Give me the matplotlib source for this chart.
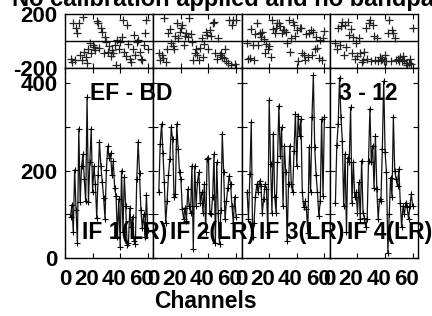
import numpy as np
import matplotlib
matplotlib.use('Agg')
from matplotlib import pyplot as plt
from matplotlib import transforms
from matplotlib.ticker import FixedLocator, FuncFormatter

# 頻道 (邊緣頻道已被標記掉)
CHANNELS = np.arange(4, 61)
IF_NAMES = ['IF 1(LR)', 'IF 2(LR)', 'IF 3(LR)', 'IF 4(LR)']

# 振幅
IF1_AMP = [95, 122, 60, 202, 110, 34, 296, 129, 210, 237,
           180, 130, 368, 129, 220, 296, 150, 210, 170, 92,
           190, 265, 210, 175, 138, 90, 202, 256, 230, 240,
           190, 221, 160, 141, 49, 135, 26, 200, 60, 186,
           118, 30, 34, 115, 70, 95, 40, 31, 180, 265,
           195, 110, 69, 100, 49, 145, 65]
IF2_AMP = [150, 261, 307, 240, 173, 80, 130, 190, 227, 299,
           272, 140, 147, 307, 250, 196, 180, 112, 90, 115,
           85, 158, 120, 104, 211, 20, 211, 120, 173, 196,
           127, 150, 104, 169, 60, 227, 230, 104, 100, 140,
           238, 35, 219, 104, 31, 110, 284, 196, 89, 130,
           161, 188, 169, 120, 80, 140, 95]
IF3_AMP = [150, 90, 192, 311, 47, 80, 139, 169, 150, 177,
           165, 104, 135, 169, 158, 60, 361, 215, 104, 285,
           139, 104, 219, 349, 234, 299, 119, 257, 196, 39,
           169, 257, 169, 150, 246, 330, 211, 326, 280, 318,
           150, 116, 130, 112, 58, 253, 150, 322, 418, 253,
           190, 150, 96, 130, 318, 142, 322]
IF4_AMP = [127, 258, 307, 413, 323, 269, 119, 238, 60, 230,
           219, 345, 127, 219, 139, 150, 104, 173, 89, 223,
           104, 92, 70, 89, 223, 342, 219, 257, 160, 280,
           158, 90, 135, 131, 250, 405, 242, 196, 12, 100,
           184, 140, 323, 200, 180, 165, 204, 127, 70, 119,
           100, 127, 116, 89, 120, 146, 119]

# 相位 (度)
IF1_PHS = [-130, -153, 131, -141, 94, 57, 131, -100, -141, 180,
           -79, -120, -165, -60, -17, -90, -30, -42, -70, 150,
           131, -50, 94, 70, -90, 32, -10, -79, -40, -110,
           -67, -90, -30, -180, 10, -60, -5, 32, 156, -80,
           -110, 118, -20, -130, -153, -60, 45, -100, -5, 10,
           -80, -130, -141, -30, 57, 156, -60]
IF2_PHS = [-90, -140, -104, -129, 168, -153, -60, 57, 90, -17,
           -40, -60, 40, 131, 20, 69, 100, 118, -30, 40,
           60, 30, 168, 50, -10, -140, -91, -60, -100, -141,
           -50, 20, -116, -20, 70, 45, -60, 82, 40, 131,
           140, -91, -130, 20, -100, -91, -116, -129, -60, -150,
           -165, 156, -178, 120, 156, -170, 156]
IF3_PHS = [-17, -130, -129, 90, -30, -140, 50, 131, -30, 60,
           32, 70, 17, -90, -20, -60, -40, -116, 156, 90,
           60, 94, 131, 131, 110, 60, 82, 82, 69, -17,
           156, -79, 20, 143, 118, 40, 82, -150, 100, 94,
           -91, -104, -140, 50, -116, 57, 82, -100, 69, -60,
           30, -55, -129, 7, -140, 20, 75]
IF4_PHS = [-17, -60, 94, -30, 110, 143, -100, 120, -42, 143,
           45, 90, -91, 30, -130, -17, -110, 20, -91, -153,
           -140, -80, 94, -130, 131, 156, -150, 118, 40, -141,
           20, -150, -116, -140, -130, -150, -100, -145, 60, 156,
           -150, 82, 57, 20, -141, -130, -145, -120, -150, -110,
           -140, -160, -178, -165, -130, -170, 100]

AMPS = [IF1_AMP, IF2_AMP, IF3_AMP, IF4_AMP]
PHASES = [IF1_PHS, IF2_PHS, IF3_PHS, IF4_PHS]

FW, FH = 432, 316
plt.rcParams['font.family'] = ['Liberation Sans', 'DejaVu Sans']
plt.rcParams['font.weight'] = 'bold'
plt.rcParams['font.size'] = 16
plt.rcParams['axes.unicode_minus'] = False


def px(x, y):
    # 像素座標轉成 figure 座標
    return x / FW, 1 - y / FH


def style_axes(ax):
    for s in ax.spines.values():
        s.set_linewidth(1.0)
        s.set_color('black')
    ax.tick_params(direction='in', length=3.6, width=0.8, top=True, right=True,
                   labelsize=16)


def main():
    fig = plt.figure(figsize=(FW / 100, FH / 100), dpi=100)
    left, width = 65, 88.3
    shift = transforms.ScaledTranslation(6 / 100, 0, fig.dpi_scale_trans)
    for i in range(4):
        x0 = (left + i * width) / FW
        w = width / FW
        # 相位
        axp = fig.add_axes([x0, (FH - 68) / FH, w, 54 / FH])
        axp.plot(CHANNELS, PHASES[i], '+', color='#222222', ms=6, mew=0.9)
        axp.axhline(0, color='black', lw=1.0)
        axp.set_xlim(0, 64)
        axp.set_ylim(-200, 200)
        style_axes(axp)
        axp.xaxis.set_major_locator(FixedLocator([0, 20, 40, 60]))
        axp.set_xticklabels([])
        axp.yaxis.set_major_locator(FixedLocator([-200, 200]))
        axp.tick_params(axis='y', length=0, pad=5.5)
        if i > 0:
            axp.set_yticklabels([])
        # 振幅
        axa = fig.add_axes([x0, (FH - 258) / FH, w, 190 / FH])
        axa.plot(CHANNELS, AMPS[i], '-', color='#111111', lw=0.9)
        axa.plot(CHANNELS, AMPS[i], '+', color='black', ms=5, mew=0.8)
        axa.set_xlim(0, 64)
        axa.set_ylim(0, 435)
        style_axes(axa)
        axa.xaxis.set_major_locator(FixedLocator([0, 20, 40, 60]))
        axa.yaxis.set_major_locator(FixedLocator([0, 100, 200, 300, 400]))
        axa.yaxis.set_major_formatter(
            FuncFormatter(lambda v, p: f'{int(v)}' if v % 200 == 0 else ''))
        axa.tick_params(axis='x', pad=8)
        axa.tick_params(axis='y', pad=5.5)
        if i > 0:
            axa.set_yticklabels([])
        # x 軸標籤靠右對齊, 類似原圖
        for lbl in axa.get_xticklabels():
            lbl.set_horizontalalignment('right')
            lbl.set_transform(lbl.get_transform() + shift)
        fig.text(*px(left + i * width + 17, 233), IF_NAMES[i],
                 fontsize=16.5, va='center', ha='left')

    fig.text(*px(90, 93), 'EF - BD', fontsize=16.5, va='center', ha='left')
    fig.text(*px(339, 93), '3 - 12', fontsize=16.5, va='center', ha='left')
    fig.text(*px(205, 302), 'Channels', fontsize=16.5, va='center', ha='center')
    fig.text(*px(12, 6), 'No calibration applied and no bandpass applied',
             fontsize=17, va='baseline', ha='left')
    fig.savefig('out.png', dpi=100)


if __name__ == '__main__':
    main()
